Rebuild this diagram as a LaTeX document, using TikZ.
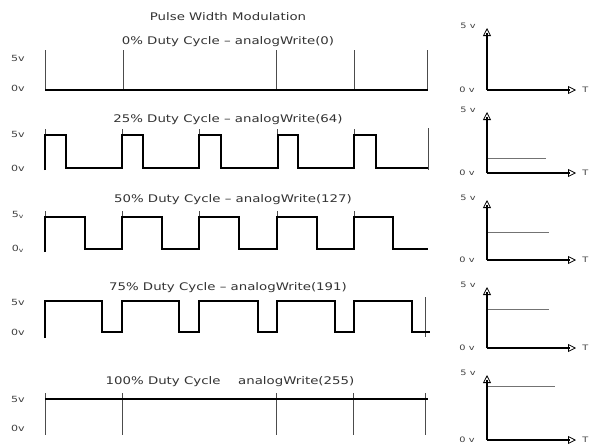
\documentclass[tikz,border=0pt]{standalone}
\usepackage{fontspec}
\setmainfont{DejaVu Sans}
\usetikzlibrary{arrows.meta}
\begin{document}
\begin{tikzpicture}[x=1pt,y=-1pt,
  wave/.style={line width=2.4pt, line join=miter},
  tick/.style={line width=0.9pt, black!70},
  ttl/.style={font=\fontsize{10.5}{12}\selectfont, text=black!80, inner sep=0pt, xscale=1.27},
  lvl/.style={font=\fontsize{8.5}{10}\selectfont, text=black!75, inner sep=0pt, xscale=1.3},
  axl/.style={font=\fontsize{7.5}{9}\selectfont, text=black!75, inner sep=0pt, xscale=1.3},
  ax/.style={line width=2.2pt},
  axarrow/.style={line width=0.8pt, -{Triangle[open,length=8pt,width=8pt]}},
  duty/.style={line width=1pt, black!55}]
\useasboundingbox (0,0) rectangle (589,445);
\fill[white] (0,0) rectangle (589,445);

% ---------- titles ----------
\node[ttl] (t0) at (228,17) {Pulse Width Modulation};
\node[ttl] (t1) at (228,42) {0\% Duty Cycle – analogWrite(0)};
\node[ttl] (t2) at (228,120) {25\% Duty Cycle – analogWrite(64)};
\node[ttl] (t3) at (233,200) {50\% Duty Cycle – analogWrite(127)};
\node[ttl] (t4) at (228,288) {75\% Duty Cycle – analogWrite(191)};
\node[ttl] (t5) at (230,382) {100\% Duty Cycle \quad analogWrite(255)};

% ---------- level labels ----------
\node[lvl] (h1) at (18,58) {5v};
\node[lvl] (l1) at (18,88) {0v};
\node[lvl] (h2) at (18,134) {5v};
\node[lvl] (l2) at (18,168) {0v};
\node[lvl] (h3) at (18,215) {$\mathrm{5_v}$};
\node[lvl] (l3) at (18,249) {$\mathrm{0_v}$};
\node[lvl] (h4) at (18,302) {5v};
\node[lvl] (l4) at (18,332) {0v};
\node[lvl] (h5) at (18,399) {5v};
\node[lvl] (l5) at (18,428) {0v};

% ---------- 0% ----------
\foreach \x in {45,123,276,354,427} \draw[tick] (\x,50) -- (\x,90);
\draw[wave] (45,90) -- (428,90);

% ---------- 25% ----------
\foreach \x in {45,122,199,277,354} \draw[tick] (\x,129) -- (\x,136);
\draw[tick] (428,128) -- (428,170);
\draw[wave] (45,170) -- (45,135) -- (66,135) -- (66,168)
  -- (122,168) -- (122,135) -- (143,135) -- (143,168)
  -- (199,168) -- (199,135) -- (221,135) -- (221,168)
  -- (278,168) -- (278,135) -- (298,135) -- (298,168)
  -- (354,168) -- (354,135) -- (376,135) -- (376,168) -- (428,168);

% ---------- 50% ----------
\foreach \x in {45,122,199,277,354} \draw[tick] (\x,211) -- (\x,218);
\draw[wave] (45,252) -- (45,217) -- (85,217) -- (85,249)
  -- (122,249) -- (122,217) -- (162,217) -- (162,249)
  -- (199,249) -- (199,217) -- (239,217) -- (239,249)
  -- (277,249) -- (277,217) -- (317,217) -- (317,249)
  -- (354,249) -- (354,217) -- (393,217) -- (393,249) -- (428,249);

% ---------- 75% ----------
\draw[tick] (425,297) -- (425,337);
\draw[wave] (45,338) -- (45,301) -- (102,301) -- (102,332)
  -- (122,332) -- (122,301) -- (179,301) -- (179,332)
  -- (199,332) -- (199,301) -- (258,301) -- (258,332)
  -- (277,332) -- (277,301) -- (335,301) -- (335,332)
  -- (354,332) -- (354,301) -- (412,301) -- (412,332) -- (430,332);

% ---------- 100% ----------
\foreach \x in {45,122,276,353,425} \draw[tick] (\x,393) -- (\x,435);
\draw[wave] (45,399) -- (428,399);

% ---------- right-hand axes ----------
\foreach \top/\base/\n in {28/90/a, 112/173/b, 200/260/c, 287/348/d, 375/440/e} {
  \coordinate (o\n) at (487,\base);
  \coordinate (v\n) at (487,\top);
  \coordinate (e\n) at (576,\base);
  \draw[ax] (o\n) -- ([yshift=-5pt]v\n);
  \draw[axarrow] ([yshift=-8pt]v\n) -- (v\n);
  \draw[ax] (o\n) -- ([xshift=-6pt]e\n);
  \draw[axarrow] ([xshift=-8pt]e\n) -- (e\n);
  \node[axl] (fv\n) at (468,\top-2) {5 v};
  \node[axl] (zv\n) at (467,\base) {0 v};
  \node[axl, anchor=west] (tt\n) at (582,\base) {T};
}
\draw[duty] (488,158) -- (546,158);
\draw[duty] (488,232) -- (549,232);
\draw[duty] (488,309) -- (549,309);
\draw[duty] (488,386) -- (555,386);
\end{tikzpicture}
\end{document}
